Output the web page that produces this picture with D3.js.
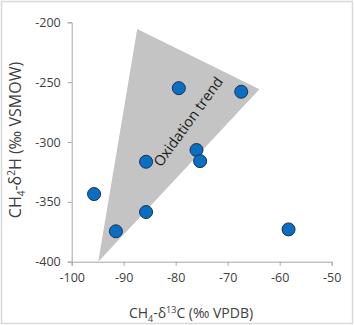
<!DOCTYPE html>
<html>
<head>
<meta charset="utf-8">
<script src="https://d3js.org/d3.v7.min.js"></script>
<style>
  body { margin: 0; background: #fff; }
  * { font-family: "Open Sans", "Liberation Sans", sans-serif; }
</style>
</head>
<body>
<div id="chart"></div>
<script>
// data
var d13C = [-79.4, -67.4, -76.0, -75.3, -85.7, -95.7, -85.7, -91.5, -58.3];
var d2H  = [-255, -258, -306.7, -316, -316.5, -343.5, -358.5, -374.6, -373];
// oxidation trend wedge (d13C, d2H)
var wedgeC = [-87.4, -63.9, -94.9];
var wedgeH = [-205.6, -256, -400];
var xTicks = [-100, -90, -80, -70, -60, -50];
var yTicks = [-400, -350, -300, -250, -200];

var W = 354, H = 325;
var margin = {top: 22.3, right: 22.3, bottom: 63.3, left: 71.7};

var svg = d3.select("#chart").append("svg")
  .attr("width", W).attr("height", H);

// outer frame
svg.append("rect")
  .attr("x", 1.5).attr("y", 1.5)
  .attr("width", W - 3).attr("height", H - 3)
  .attr("fill", "none").attr("stroke", "#d9d9d9").attr("stroke-width", 1.5);

var x = d3.scaleLinear().domain([-100, -50]).range([margin.left, W - margin.right]);
var y = d3.scaleLinear().domain([-400, -200]).range([H - margin.bottom, margin.top]);

// wedge
var wedge = wedgeC.map(function(c, i) { return [x(c), y(wedgeH[i])]; });
svg.append("path")
  .attr("d", d3.line()(wedge) + "Z")
  .attr("fill", "#c4c4c4");

var fmt = function(d) { return String(d); };  // plain hyphen minus

// axes
var xAxis = svg.append("g")
  .attr("transform", "translate(0," + y(-400) + ")")
  .call(d3.axisBottom(x).tickValues(xTicks).tickSize(4).tickPadding(7).tickFormat(fmt));
var yAxis = svg.append("g")
  .attr("transform", "translate(" + x(-100) + ",0)")
  .call(d3.axisLeft(y).tickValues(yTicks).tickSize(4).tickPadding(7).tickFormat(fmt));

[xAxis, yAxis].forEach(function(a) {
  a.select(".domain").attr("stroke", "#a6a6a6");
  a.selectAll(".tick line").attr("stroke", "#a6a6a6");
  a.selectAll(".tick text").attr("fill", "#404040").style("font-size", "12.5px");
});

// trend label
svg.append("text")
  .attr("transform", "translate(" + x(-77.6) + "," + y(-283) + ") rotate(-54)")
  .attr("text-anchor", "middle")
  .attr("dy", "0.35em")
  .style("font-size", "14.5px")
  .attr("fill", "#1a1a1a")
  .text("Oxidation trend");

// points
svg.selectAll("circle.pt")
  .data(d13C)
  .enter().append("circle")
    .attr("class", "pt")
    .attr("cx", function(d) { return x(d); })
    .attr("cy", function(d, i) { return y(d2H[i]); })
    .attr("r", 6.5)
    .attr("fill", "#0a6fc2")
    .attr("stroke", "#1c2f4f")
    .attr("stroke-width", 1);

// axis titles
var xt = svg.append("text")
  .attr("x", 191).attr("y", 318)
  .attr("text-anchor", "middle")
  .style("font-size", "14px").attr("fill", "#404040");
xt.append("tspan").text("CH");
xt.append("tspan").attr("dy", 4).style("font-size", "9px").text("4");
xt.append("tspan").attr("dy", -4).text("-δ");
xt.append("tspan").attr("dy", -5).style("font-size", "9px").text("13");
xt.append("tspan").attr("dy", 5).text("C (‰ VPDB)");

var yt = svg.append("text")
  .attr("transform", "translate(21,140) rotate(-90)")
  .attr("text-anchor", "middle")
  .style("font-size", "16px").attr("fill", "#404040");
yt.append("tspan").text("CH");
yt.append("tspan").attr("dy", 4).style("font-size", "10px").text("4");
yt.append("tspan").attr("dy", -4).text("-δ");
yt.append("tspan").attr("dy", -6).style("font-size", "10px").text("2");
yt.append("tspan").attr("dy", 6).text("H (‰ VSMOW)");
</script>
</body>
</html>
